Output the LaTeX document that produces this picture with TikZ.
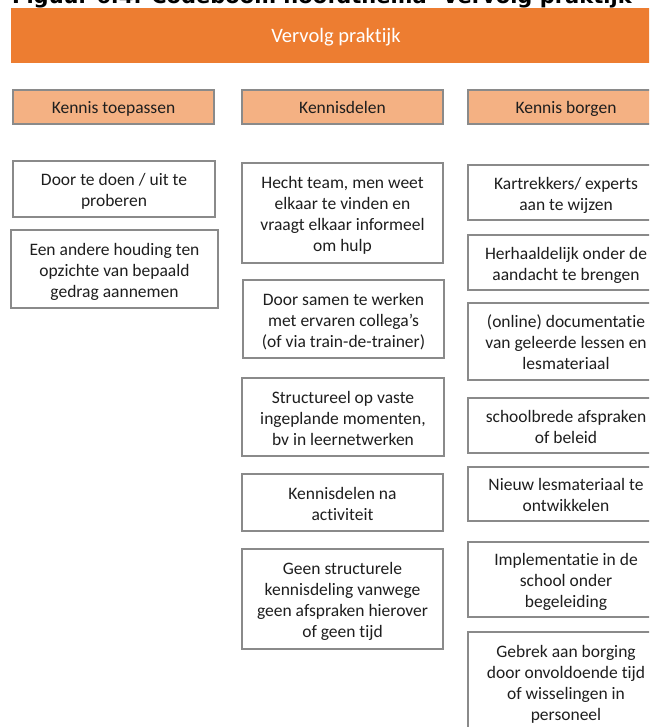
\documentclass[tikz,border=0pt]{standalone}
\usepackage{fontspec}
\setmainfont{Carlito}[Ligatures={NoCommon}]
\newfontfamily\titlefont{DejaVu Sans}
\definecolor{bannerorange}{HTML}{ED7D31}
\definecolor{catfill}{HTML}{F4B183}
\definecolor{boxline}{HTML}{8A8A8A}
\definecolor{textdark}{HTML}{1E1E1E}
% centred block of lines, set a little lower than its own middle
\newcommand\boxtext[2][3pt]{%
  \raisebox{-#1}[\height][\depth]{\begin{tabular}{@{}c@{}}#2\end{tabular}}}
\tikzset{
  banner/.style={fill=bannerorange, draw=none, inner sep=0pt,
    font=\fontsize{20.5}{24}\selectfont, text=white},
  catbox/.style={fill=catfill, draw=boxline, line width=1.3pt, inner sep=0pt,
    font=\fontsize{17.5}{21}\selectfont, text=textdark},
  itembox/.style={fill=white, draw=boxline, line width=1.3pt, inner sep=0pt,
    font=\fontsize{17.5}{21}\selectfont, text=textdark},
}
\begin{document}
\begin{tikzpicture}[x=1pt, y=-1pt]
  \useasboundingbox (0,0) rectangle (649,727);
  \clip (0,0) rectangle (649,727);
  \fill[white] (0,0) rectangle (649,727);

  % caption line above the tree
  \node[anchor=base west, inner sep=0pt, text=black,
        font=\titlefont\bfseries\fontsize{21}{25}\selectfont]
    (caption) at (12,4) {Figuur 6.4. Codeboom hoofdthema ‘Vervolg praktijk’};

  % main theme
  \node[banner, minimum width=650pt, minimum height=55pt] (theme) at (336,35.5)
    {\boxtext[2.4pt]{Vervolg praktijk}};

  % sub-themes
  \node[catbox, minimum width=201pt, minimum height=34pt] (toepassen) at (113.5,107)
    {\boxtext[2pt]{Kennis toepassen}};
  \node[catbox, minimum width=201pt, minimum height=34pt] (delen) at (342.5,107)
    {\boxtext[2pt]{Kennisdelen}};
  \node[catbox, minimum width=196pt, minimum height=34pt] (borgen) at (566,107)
    {\boxtext[2pt]{Kennis borgen}};

  % codes: Kennis toepassen
  \node[itembox, minimum width=202pt, minimum height=56pt] (t1) at (114,189)
    {\boxtext{Door te doen / uit te\\proberen}};
  \node[itembox, minimum width=207pt, minimum height=78pt] (t2) at (114.5,269)
    {\boxtext{Een andere houding ten\\opzichte van bepaald\\gedrag aannemen}};

  % codes: Kennisdelen
  \node[itembox, minimum width=201pt, minimum height=100pt] (d1) at (342.5,213)
    {\boxtext{Hecht team, men weet\\elkaar te vinden en\\vraagt elkaar informeel\\om hulp}};
  \node[itembox, minimum width=201pt, minimum height=78pt] (d2) at (343.5,319)
    {\boxtext{Door samen te werken\\met ervaren collega’s\\(of via train-de-trainer)}};
  \node[itembox, minimum width=202pt, minimum height=78pt] (d3) at (343,417)
    {\boxtext{Structureel op vaste\\ingeplande momenten,\\bv in leernetwerken}};
  \node[itembox, minimum width=201pt, minimum height=57pt] (d4) at (342.5,502.5)
    {\boxtext{Kennisdelen na\\activiteit}};
  \node[itembox, minimum width=201pt, minimum height=100pt] (d5) at (342.5,599)
    {\boxtext{Geen structurele\\kennisdeling vanwege\\geen afspraken hierover\\of geen tijd}};

  % codes: Kennis borgen
  \node[itembox, minimum width=196pt, minimum height=55pt] (b1) at (566,192.5)
    {\boxtext{Kartrekkers/ experts\\aan te wijzen}};
  \node[itembox, minimum width=196pt, minimum height=55pt] (b2) at (566,262.5)
    {\boxtext{Herhaaldelijk onder de\\aandacht te brengen}};
  \node[itembox, minimum width=196pt, minimum height=77pt] (b3) at (566,341.5)
    {\boxtext{(online) documentatie\\van geleerde lessen en\\lesmateriaal}};
  \node[itembox, minimum width=196pt, minimum height=55pt] (b4) at (566,425.5)
    {\boxtext{schoolbrede afspraken\\of beleid}};
  \node[itembox, minimum width=196pt, minimum height=54pt] (b5) at (566,494)
    {\boxtext{Nieuw lesmateriaal te\\ontwikkelen}};
  \node[itembox, minimum width=196pt, minimum height=75pt] (b6) at (566,579.5)
    {\boxtext{Implementatie in de\\school onder\\begeleiding}};
  \node[itembox, minimum width=196pt, minimum height=100pt] (b7) at (566,682)
    {\boxtext{Gebrek aan borging\\door onvoldoende tijd\\of wisselingen in\\personeel}};
\end{tikzpicture}
\end{document}
